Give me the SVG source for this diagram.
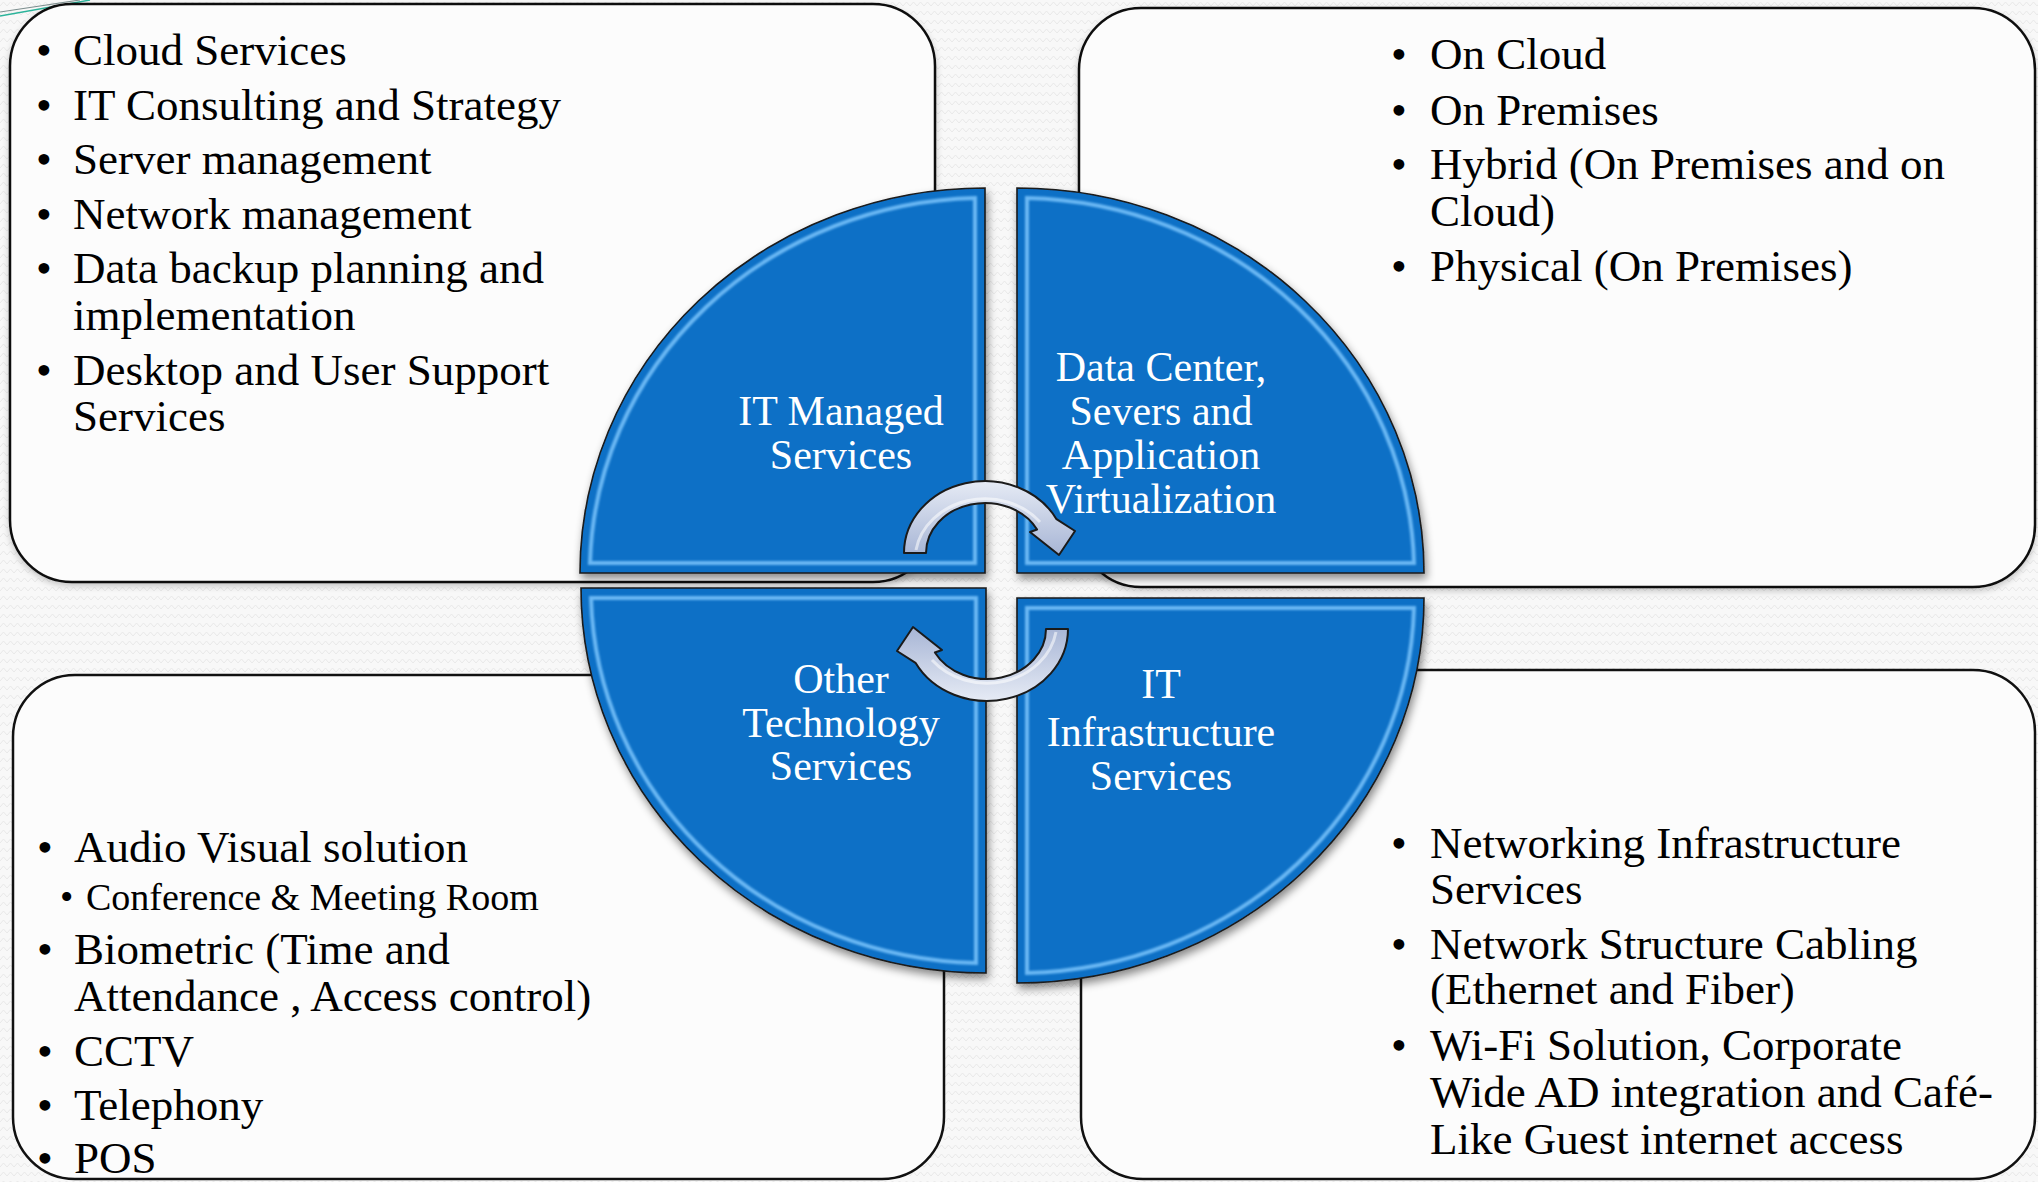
<svg xmlns="http://www.w3.org/2000/svg" width="2038" height="1182" viewBox="0 0 2038 1182">
<defs>
  <pattern id="bgpat" width="14" height="9" patternUnits="userSpaceOnUse">
    <rect width="14" height="9" fill="#f8f8f8"/>
    <polyline points="0,6 3.5,2 7,6 10.5,2 14,6" fill="none" stroke="#e9e9e9" stroke-width="1"/>
  </pattern>
  <filter id="qshadow" x="-10%" y="-10%" width="125%" height="125%">
    <feDropShadow dx="2" dy="5" stdDeviation="4" flood-color="#000" flood-opacity="0.45"/>
  </filter>
  <filter id="bshadow" x="-5%" y="-5%" width="110%" height="115%">
    <feDropShadow dx="0" dy="3" stdDeviation="3" flood-color="#000" flood-opacity="0.2"/>
  </filter>
  <filter id="soft" x="-5%" y="-5%" width="110%" height="110%">
    <feGaussianBlur stdDeviation="0.9"/>
  </filter>
  <linearGradient id="arrowGrad" x1="0" y1="0" x2="0" y2="1">
    <stop offset="0" stop-color="#e6ebf5"/>
    <stop offset="1" stop-color="#a7b5d5"/>
  </linearGradient>
  <path id="cycArrow" d="M904,553 A81,72 0 0,1 1056.5,519.2 L1075,531 L1059,555 L1030,532 L1037.1,529.5 A59,50 0 0,0 926,553 Z"/>
</defs>
<style>
  .box { fill:#fcfcfc; stroke:#111; stroke-width:2.5; }
  .item { font-family:"Liberation Serif", serif; font-size:45px; fill:#000; }
  .sub { font-size:38px; }
  .quad { fill:#1170c6; stroke:#1a1a1a; stroke-width:1.6; }
  .hl { fill:none; stroke:#6ab8f4; stroke-width:4; }
  .qlabel { font-family:"Liberation Serif", serif; font-size:42px; fill:#fff; text-anchor:middle; }
  .arrow { fill:url(#arrowGrad); stroke:#1a1a1a; stroke-width:2; stroke-linejoin:round; }
  .gloss { fill:none; stroke:#ffffff; stroke-width:3; stroke-opacity:0.55; }
</style>

<rect x="0" y="0" width="2038" height="1182" fill="url(#bgpat)"/>
<line x1="0" y1="12" x2="80" y2="0" stroke="#7d8f8f" stroke-width="1.2"/>
<line x1="0" y1="16" x2="90" y2="0" stroke="#2ab39a" stroke-width="1.4"/>

<g id="box-managed">
  <rect class="box" x="10" y="4" width="925" height="578" rx="62" ry="62" filter="url(#bshadow)"/>
</g>
<g id="box-datacenter">
  <rect class="box" x="1079" y="8" width="956" height="579" rx="62" ry="62" filter="url(#bshadow)"/>
</g>
<g id="box-other">
  <rect class="box" x="13" y="675" width="931" height="504" rx="62" ry="62"/>
</g>
<g id="box-infra">
  <rect class="box" x="1081" y="670" width="954" height="509" rx="62" ry="62"/>
</g>

<g id="quad-managed">
  <path class="quad" d="M985,573 L580,573 A405,385 0 0,1 985,188 Z" filter="url(#qshadow)"/>
  <path class="hl" d="M975,563 L590,563 A395,375 0 0,1 975,198 Z" filter="url(#soft)"/>
  <text class="qlabel" x="841" y="425">IT Managed</text>
  <text class="qlabel" x="841" y="469">Services</text>
</g>
<g id="quad-datacenter">
  <path class="quad" d="M1017,573 L1017,188 A407,385 0 0,1 1424,573 Z" filter="url(#qshadow)"/>
  <path class="hl" d="M1027,563 L1027,198 A397,375 0 0,1 1414,563 Z" filter="url(#soft)"/>
  <text class="qlabel" x="1161" y="381">Data Center,</text>
  <text class="qlabel" x="1161" y="425">Severs and</text>
  <text class="qlabel" x="1161" y="469">Application</text>
  <text class="qlabel" x="1161" y="513">Virtualization</text>
</g>
<g id="quad-other">
  <path class="quad" d="M986,588 L581,588 A405,385 0 0,0 986,973 Z" filter="url(#qshadow)"/>
  <path class="hl" d="M976,598 L591,598 A395,375 0 0,0 976,963 Z" filter="url(#soft)"/>
  <text class="qlabel" x="841" y="693">Other</text>
  <text class="qlabel" x="841" y="737">Technology</text>
  <text class="qlabel" x="841" y="780">Services</text>
</g>
<g id="quad-infra">
  <path class="quad" d="M1017,598 L1424,598 A407,385 0 0,1 1017,983 Z" filter="url(#qshadow)"/>
  <path class="hl" d="M1027,608 L1414,608 A397,375 0 0,1 1027,973 Z" filter="url(#soft)"/>
  <text class="qlabel" x="1161" y="698">IT</text>
  <text class="qlabel" x="1161" y="746">Infrastructure</text>
  <text class="qlabel" x="1161" y="790">Services</text>
</g>

<g id="connectors">
  <use href="#cycArrow" class="arrow"/>
  <path class="gloss" d="M916,550 A70,61 0 0,1 1040,522"/>
  <use href="#cycArrow" class="arrow" transform="rotate(180 986 591)"/>
  <path class="gloss" d="M916,550 A70,61 0 0,1 1040,522" transform="rotate(180 986 591)"/>
</g>

<g id="text-managed" class="item">
  <text x="36" y="65">•</text><text x="73" y="65">Cloud Services</text>
  <text x="36" y="120">•</text><text x="73" y="120">IT Consulting and Strategy</text>
  <text x="36" y="174">•</text><text x="73" y="174">Server management</text>
  <text x="36" y="229">•</text><text x="73" y="229">Network management</text>
  <text x="36" y="283">•</text><text x="73" y="283">Data backup planning and</text>
  <text x="73" y="330">implementation</text>
  <text x="36" y="385">•</text><text x="73" y="385">Desktop and User Support</text>
  <text x="73" y="431">Services</text>
</g>
<g id="text-datacenter" class="item">
  <text x="1391" y="69">•</text><text x="1430" y="69">On Cloud</text>
  <text x="1391" y="125">•</text><text x="1430" y="125">On Premises</text>
  <text x="1391" y="179">•</text><text x="1430" y="179">Hybrid (On Premises and on</text>
  <text x="1430" y="226">Cloud)</text>
  <text x="1391" y="281">•</text><text x="1430" y="281">Physical (On Premises)</text>
</g>
<g id="text-other" class="item">
  <text x="37" y="862">•</text><text x="74" y="862">Audio Visual solution</text>
  <text class="sub" x="60" y="910">•</text><text class="sub" x="86" y="910">Conference &amp; Meeting Room</text>
  <text x="37" y="964">•</text><text x="74" y="964">Biometric (Time and</text>
  <text x="74" y="1011">Attendance , Access control)</text>
  <text x="37" y="1066">•</text><text x="74" y="1066">CCTV</text>
  <text x="37" y="1120">•</text><text x="74" y="1120">Telephony</text>
  <text x="37" y="1173">•</text><text x="74" y="1173">POS</text>
</g>
<g id="text-infra" class="item">
  <text x="1391" y="858">•</text><text x="1430" y="858">Networking Infrastructure</text>
  <text x="1430" y="904">Services</text>
  <text x="1391" y="959">•</text><text x="1430" y="959">Network Structure Cabling</text>
  <text x="1430" y="1004">(Ethernet and Fiber)</text>
  <text x="1391" y="1060">•</text><text x="1430" y="1060">Wi-Fi Solution, Corporate</text>
  <text x="1430" y="1107">Wide AD integration and Café-</text>
  <text x="1430" y="1154">Like Guest internet access</text>
</g>
</svg>
